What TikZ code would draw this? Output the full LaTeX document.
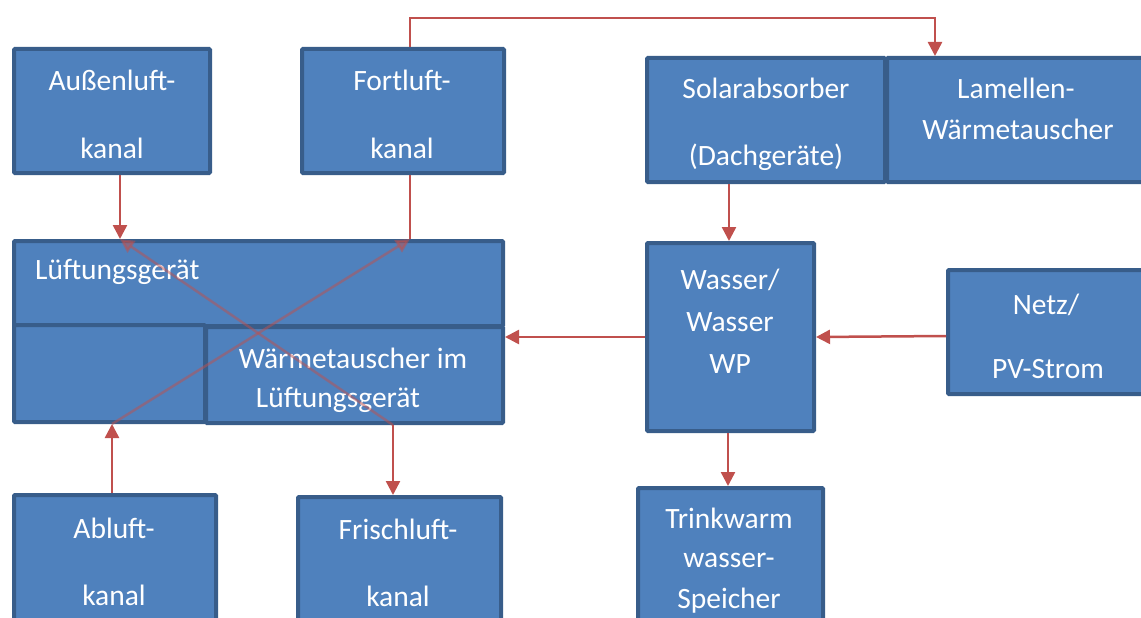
\documentclass[tikz,border=0pt]{standalone}
\usepackage{fontspec}
\setmainfont{Carlito}
\usetikzlibrary{arrows.meta}
\definecolor{boxfill}{HTML}{4F81BD}
\definecolor{boxline}{HTML}{385D8A}
\definecolor{linkred}{HTML}{C0504D}
\newcommand\mkbox[5]{\node[box, anchor=north west, minimum width={#4-#2-4}, minimum height={#5-#3-4}] (#1) at (#2,#3) {};}
\begin{document}
\begin{tikzpicture}[x=1pt,y=-1pt,
  box/.style={draw=boxline, fill=boxfill, line width=4pt, inner sep=0pt, rounded corners=1pt},
  txt/.style={text=white, font=\fontsize{29.5}{35}\selectfont, inner sep=0pt},
  arr/.style={draw=linkred, line width=2.5pt, -{Triangle[width=14pt,length=14pt]}},
  plain/.style={draw=linkred, line width=2.5pt},
  xarr/.style={draw=linkred, draw opacity=0.5, fill opacity=0.5, line width=2.5pt, -{Triangle[width=14pt,length=14pt]}}]
\useasboundingbox (0,0) rectangle (1141,618);
\clip (0,0) rectangle (1141,618);
% boxes
\mkbox{aussen}{12}{47}{212}{175}
\mkbox{fort}{300}{47}{506}{175}
\mkbox{solar}{645}{56}{887}{184}
\mkbox{lamellen}{885}{56}{1160}{184}
\mkbox{lueft}{12}{239}{505}{328}
\mkbox{lleft}{12}{323}{207}{424}
\mkbox{lright}{204}{325}{505}{425}
\mkbox{wp}{645}{241}{816}{433}
\mkbox{netz}{946}{268}{1160}{396}
\mkbox{abluft}{12}{493}{218}{640}
\mkbox{frisch}{296}{495}{503}{640}
\mkbox{trink}{636}{486}{825}{640}
% texts
\node[txt] (t1a) at (112,80) {Außenluft-};
\node[txt] (t1b) at (112,148) {kanal};
\node[txt] (t2a) at (402,80) {Fortluft-};
\node[txt] (t2b) at (402,148) {kanal};
\node[txt] (t3a) at (766,88) {Solarabsorber};
\node[txt] (t3b) at (766,157) {(Dachgeräte)};
\node[txt] (t4a) at (1016,88) {Lamellen-};
\node[txt] (t4b) at (1018,129) {Wärmetauscher};
\node[txt, anchor=west] (t5) at (35,272) {Lüftungsgerät};
\node[txt] (t6a) at (353,358) {Wärmetauscher im};
\node[txt] (t6b) at (338,400) {Lüftungsgerät};
\node[txt] (t7a) at (730,280) {Wasser/};
\node[txt] (t7b) at (730,322) {Wasser};
\node[txt] (t7c) at (730,364) {WP};
\node[txt] (t8a) at (1046,305) {Netz/};
\node[txt] (t8b) at (1048,369) {PV-Strom};
\node[txt] (t9a) at (114,528) {Abluft-};
\node[txt] (t9b) at (114,595) {kanal};
\node[txt] (t10a) at (398,529) {Frischluft-};
\node[txt] (t10b) at (398,596) {kanal};
\node[txt] (t11a) at (729,518) {Trinkwarm};
\node[txt] (t11b) at (729,560) {wasser-};
\node[txt] (t11c) at (729,601) {Speicher};
% connectors
\draw[arr] (aussen.south -| 120,0) -- (lueft.north -| 120,0);
\draw[plain] (lueft.north -| 410,0) -- (fort.south -| 410,0);
\draw[arr] (fort.north -| 410,0) -- (410,18) -- (935,18) -- (lamellen.north -| 935,0);
\draw[arr] (solar.south -| 729,0) -- (wp.north -| 729,0);
\draw[arr] (wp.west |- 0,337) -- (lright.east |- 0,337);
\draw[arr] (netz.west |- 0,336) -- (wp.east |- 0,337);
\draw[arr] (wp.south -| 728,0) -- (trink.north -| 728,0);
\draw[arr] (abluft.north -| 112,0) -- (lleft.south -| 112,0);
\draw[arr] (lright.south -| 393,0) -- (frisch.north -| 393,0);
\draw[xarr] (lleft.south -| 112,0) -- (lueft.north -| 410,0);
\draw[xarr] (lright.south -| 393,0) -- (lueft.north -| 120,0);
\end{tikzpicture}
\end{document}
